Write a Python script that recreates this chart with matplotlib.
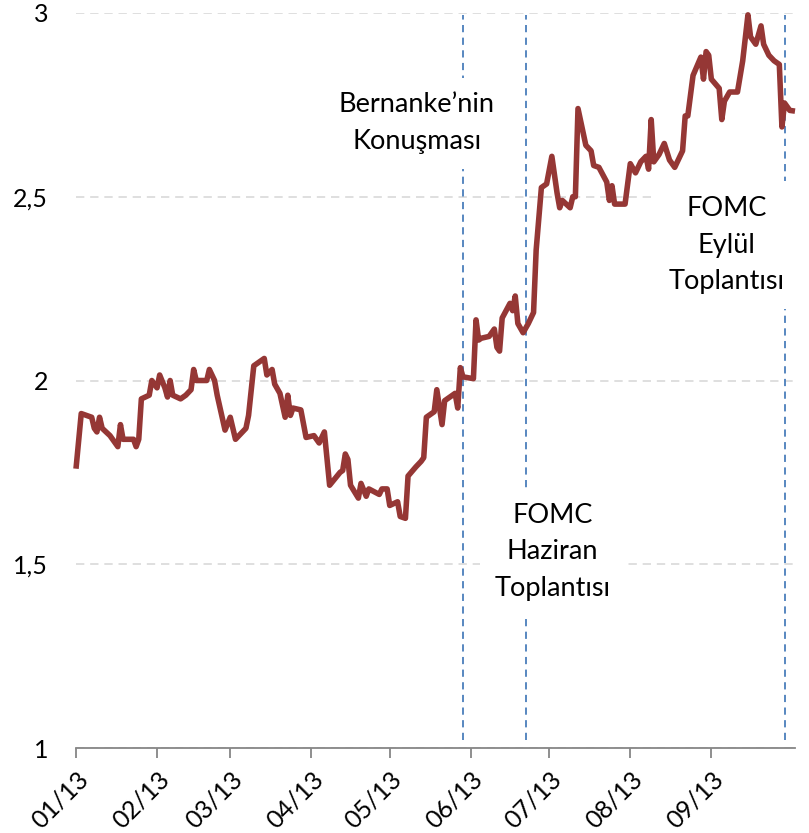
import matplotlib
matplotlib.use('Agg')
import matplotlib.pyplot as plt
import matplotlib.dates as mdates
from matplotlib.ticker import FuncFormatter
import pandas as pd

# ---- data ----
dates = [
    '2013-01-01', '2013-01-03', '2013-01-07', '2013-01-08', '2013-01-09', '2013-01-10', '2013-01-11',
    '2013-01-14', '2013-01-16', '2013-01-17', '2013-01-18', '2013-01-19', '2013-01-23', '2013-01-24',
    '2013-01-25', '2013-01-26', '2013-01-29', '2013-01-30',
    '2013-02-01', '2013-02-02', '2013-02-04', '2013-02-05', '2013-02-06', '2013-02-07', '2013-02-10',
    '2013-02-12', '2013-02-14', '2013-02-15', '2013-02-16', '2013-02-20', '2013-02-21', '2013-02-23',
    '2013-02-24', '2013-02-27',
    '2013-03-01', '2013-03-03', '2013-03-07', '2013-03-08', '2013-03-10', '2013-03-12', '2013-03-14',
    '2013-03-15', '2013-03-17', '2013-03-18', '2013-03-20', '2013-03-22', '2013-03-23', '2013-03-24',
    '2013-03-25', '2013-03-28', '2013-03-30',
    '2013-04-02', '2013-04-04', '2013-04-06', '2013-04-08', '2013-04-12', '2013-04-13', '2013-04-14',
    '2013-04-15', '2013-04-16', '2013-04-19', '2013-04-20', '2013-04-22', '2013-04-23', '2013-04-27',
    '2013-04-28', '2013-04-30',
    '2013-05-01', '2013-05-04', '2013-05-05', '2013-05-07', '2013-05-08', '2013-05-11', '2013-05-13',
    '2013-05-14', '2013-05-15', '2013-05-18', '2013-05-19', '2013-05-21', '2013-05-22', '2013-05-25',
    '2013-05-26', '2013-05-27', '2013-05-28', '2013-05-29',
    '2013-06-02', '2013-06-03', '2013-06-04', '2013-06-05', '2013-06-08', '2013-06-10', '2013-06-11',
    '2013-06-12', '2013-06-13', '2013-06-16', '2013-06-17', '2013-06-18', '2013-06-19', '2013-06-21',
    '2013-06-23', '2013-06-25', '2013-06-26', '2013-06-28', '2013-06-30',
    '2013-07-02', '2013-07-04', '2013-07-05', '2013-07-06', '2013-07-09', '2013-07-10', '2013-07-11',
    '2013-07-12', '2013-07-15', '2013-07-17', '2013-07-18', '2013-07-20', '2013-07-23', '2013-07-24',
    '2013-07-25', '2013-07-26', '2013-07-30',
    '2013-08-01', '2013-08-03', '2013-08-05', '2013-08-07', '2013-08-08', '2013-08-09', '2013-08-10',
    '2013-08-12', '2013-08-14', '2013-08-16', '2013-08-18', '2013-08-21', '2013-08-22', '2013-08-23',
    '2013-08-25', '2013-08-28', '2013-08-29', '2013-08-30', '2013-08-31',
    '2013-09-01', '2013-09-04', '2013-09-05', '2013-09-06', '2013-09-08', '2013-09-11', '2013-09-13',
    '2013-09-15', '2013-09-16', '2013-09-18', '2013-09-20', '2013-09-21', '2013-09-23', '2013-09-25',
    '2013-09-27', '2013-09-28', '2013-09-29',
    '2013-10-01', '2013-10-03',
]
yields = [
    1.76, 1.91, 1.90, 1.87, 1.86, 1.90, 1.87,
    1.85, 1.83, 1.82, 1.88, 1.84, 1.84, 1.82,
    1.84, 1.95, 1.96, 2.00,
    1.98, 2.015, 1.98, 1.955, 2.00, 1.96, 1.95,
    1.96, 1.975, 2.03, 2.00, 2.00, 2.03, 2.00,
    1.96, 1.865,
    1.90, 1.84, 1.87, 1.905, 2.04, 2.05, 2.06,
    2.015, 2.03, 1.99, 1.965, 1.90, 1.96, 1.905,
    1.925, 1.92, 1.845,
    1.85, 1.83, 1.86, 1.715, 1.75, 1.755, 1.80,
    1.785, 1.715, 1.68, 1.72, 1.685, 1.705, 1.69,
    1.705, 1.705,
    1.66, 1.67, 1.63, 1.625, 1.74, 1.765, 1.78,
    1.79, 1.90, 1.915, 1.975, 1.88, 1.945, 1.96,
    1.965, 1.925, 2.035, 2.01,
    2.005, 2.165, 2.11, 2.115, 2.12, 2.14, 2.09,
    2.08, 2.17, 2.21, 2.19, 2.23, 2.155, 2.13,
    2.155, 2.185, 2.355, 2.525, 2.535,
    2.61, 2.51, 2.47, 2.49, 2.47, 2.50, 2.50,
    2.74, 2.64, 2.625, 2.585, 2.58, 2.54, 2.49,
    2.53, 2.48, 2.48,
    2.59, 2.565, 2.595, 2.61, 2.575, 2.71, 2.595,
    2.615, 2.645, 2.60, 2.58, 2.625, 2.72, 2.72,
    2.83, 2.88, 2.82, 2.895, 2.885,
    2.82, 2.795, 2.71, 2.76, 2.785, 2.785, 2.87,
    2.995, 2.935, 2.915, 2.965, 2.915, 2.885, 2.87,
    2.86, 2.69, 2.755,
    2.735, 2.733,
]
tick_months = ['2013-01-01', '2013-02-01', '2013-03-01', '2013-04-01', '2013-05-01',
               '2013-06-01', '2013-07-01', '2013-08-01', '2013-09-01']
tick_labels = ['01/13', '02/13', '03/13', '04/13', '05/13', '06/13', '07/13', '08/13', '09/13']
y_ticks = [1, 1.5, 2, 2.5, 3]
event_dates = ['2013-05-29', '2013-06-22', '2013-09-29']
event_labels = ['Bernanke\u2019nin\nKonuşması', 'FOMC\nHaziran\nToplantısı', 'FOMC\nEylül\nToplantısı']
x_start, x_end = '2013-01-01', '2013-10-03'

# ---- figure ----
plt.rcParams['font.family'] = ['Lato', 'DejaVu Sans']
fig = plt.figure(figsize=(8.09, 8.33), dpi=100)
ax = fig.add_axes([76 / 809, 85 / 833, 719 / 809, 735 / 833])

x = pd.to_datetime(dates)
ev = pd.to_datetime(event_dates)

ax.set_xlim(pd.Timestamp(x_start), pd.Timestamp(x_end))
ax.set_ylim(1, 3)

ax.yaxis.grid(True, color='#d9d9d9', linestyle=(0, (5, 3.5)), linewidth=1.2, zorder=0)
ax.set_axisbelow(True)

ax.vlines(ev, 1.022, 2.995, colors='#4a7ebb', linestyles=(0, (4, 3)), linewidth=1.3, zorder=1)

text_pos = [(0.474, 0.850), (0.663, 0.267), (0.905, 0.684)]
for (tx, ty), lab in zip(text_pos, event_labels):
    ax.text(tx, ty, lab, transform=ax.transAxes, ha='center', va='center',
            fontsize=19.5, linespacing=1.58, color='#000000', zorder=2,
            bbox=dict(boxstyle='square,pad=0.55', facecolor='white', edgecolor='none'))

ax.plot(x, yields, color='#953735', linewidth=4.0, solid_joinstyle='round',
        solid_capstyle='butt', zorder=3, clip_on=False)

for s in ['top', 'right', 'left']:
    ax.spines[s].set_visible(False)
ax.spines['bottom'].set_color('#868686')
ax.spines['bottom'].set_linewidth(1.3)

ax.set_xticks(pd.to_datetime(tick_months))
ax.set_xticklabels(tick_labels, rotation=45, ha='right', rotation_mode='anchor')
ax.tick_params(axis='x', length=7, width=1.3, color='#868686', labelsize=18, pad=7,
               labelcolor='#000000')
ax.set_yticks(y_ticks)
ax.yaxis.set_major_formatter(FuncFormatter(lambda v, p: ('%g' % v).replace('.', ',')))
ax.tick_params(axis='y', length=0, labelsize=18, pad=20, labelcolor='#000000')

fig.savefig('out.png', dpi=100)
